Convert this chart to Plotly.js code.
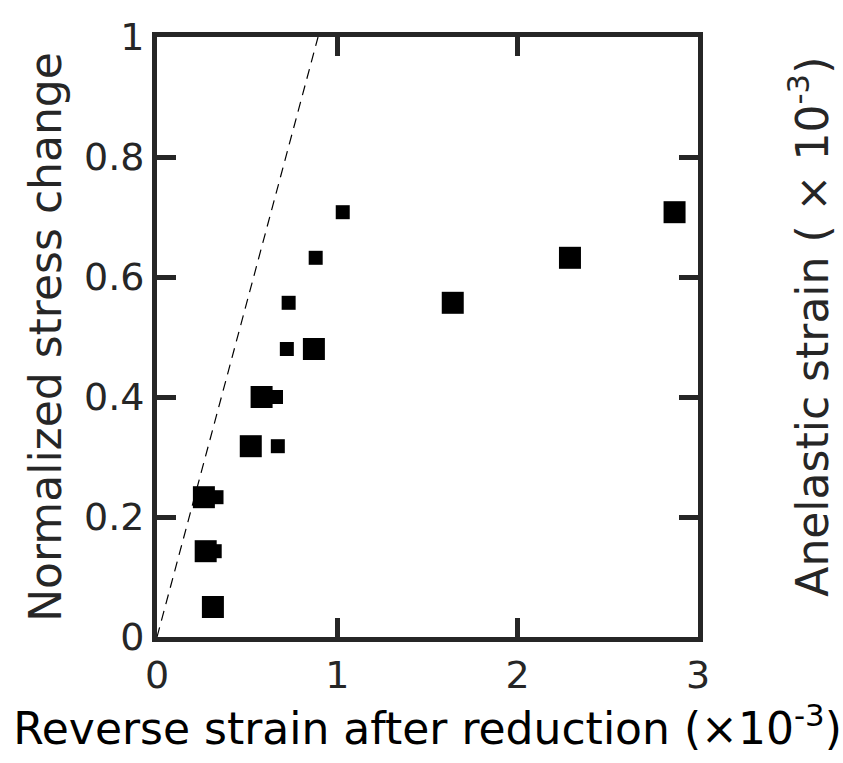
<!DOCTYPE html>
<html>
<head>
<meta charset="utf-8">
<script src="https://cdn.plot.ly/plotly-3.0.1.min.js"></script>
<style>html,body{margin:0;padding:0;background:#fff;}#chart{width:843px;height:763px;}</style>
</head>
<body>
<div id="chart"></div>
<script>
// Large squares
var bigX = [2.87, 2.29, 1.64, 0.87, 0.58, 0.52, 0.26, 0.27, 0.31];
var bigY = [0.708, 0.632, 0.557, 0.48, 0.40, 0.318, 0.233, 0.143, 0.05];
// Small squares
var smallX = [1.03, 0.88, 0.73, 0.72, 0.66, 0.67, 0.33, 0.32];
var smallY = [0.708, 0.632, 0.557, 0.48, 0.40, 0.318, 0.233, 0.143];
// Dashed reference line
var refX = [0, 0.893];
var refY = [0, 1];

var xTicks = [0, 1, 2, 3];
var xTickText = ['0', '1', '2', '3'];
var yTicks = [0, 0.2, 0.4, 0.6, 0.8, 1];
var yTickText = ['0', '0.2', '0.4', '0.6', '0.8', '1'];

var axisColor = '#262626';
var font = 'DejaVu Sans, sans-serif';

var traces = [
  {x: refX, y: refY, mode: 'lines', line: {color: '#000', width: 1.2, dash: '10px,7px'}, hoverinfo: 'skip', showlegend: false},
  {x: smallX, y: smallY, mode: 'markers', marker: {symbol: 'square', size: 14, color: '#000', line: {width: 0}}, showlegend: false},
  {x: bigX, y: bigY, mode: 'markers', marker: {symbol: 'square', size: 22, color: '#000', line: {width: 0}}, showlegend: false}
];

var layout = {
  width: 843, height: 763,
  margin: {l: 157, r: 145, t: 37, b: 126, pad: 0},
  paper_bgcolor: '#fff', plot_bgcolor: '#fff',
  font: {family: font, color: axisColor},
  xaxis: {
    range: [0, 3], tickvals: xTicks, ticktext: xTickText,
    ticks: 'inside', ticklen: 19, tickwidth: 5, tickcolor: axisColor,
    showline: true, linewidth: 5, linecolor: axisColor, mirror: 'ticks',
    showgrid: false, zeroline: false,
    tickfont: {size: 38, color: axisColor, family: font},
    title: {text: 'Reverse strain after reduction (×10<sup>-3</sup>)', font: {size: 44, color: '#000', family: font}, standoff: 10}
  },
  yaxis: {
    range: [0, 1], tickvals: yTicks, ticktext: yTickText,
    ticks: 'inside', ticklen: 19, tickwidth: 5, tickcolor: axisColor,
    showline: true, linewidth: 5, linecolor: axisColor, mirror: 'ticks',
    showgrid: false, zeroline: false,
    tickfont: {size: 38, color: axisColor, family: font},
    title: {text: 'Normalized stress change', font: {size: 44, color: axisColor, family: font}, standoff: 10}
  },
  annotations: [{
    xref: 'paper', yref: 'paper', x: 1.205, y: 0.517, xanchor: 'center', yanchor: 'middle',
    textangle: -90, showarrow: false,
    text: 'Anelastic strain ( × 10<sup>-3</sup>)',
    font: {size: 44, color: axisColor, family: font}
  }]
};

Plotly.newPlot('chart', traces, layout, {displayModeBar: false, staticPlot: true});
</script>
</body>
</html>
